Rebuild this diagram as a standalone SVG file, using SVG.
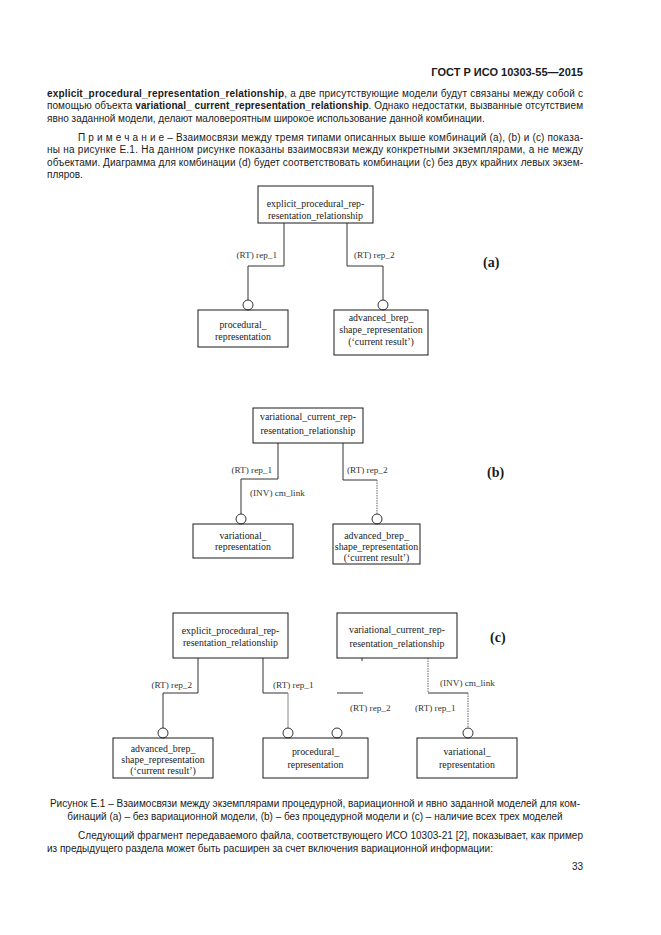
<svg xmlns="http://www.w3.org/2000/svg" width="661" height="935" viewBox="0 0 661 935">
<style>
.bg{fill:#ffffff}
.body{font-family:"Liberation Sans",Arial,sans-serif;font-size:10px;fill:#1a1a1a}
.b{font-weight:bold}
.hdr{font-family:"Liberation Sans",Arial,sans-serif;font-size:11px;font-weight:bold;fill:#1a1a1a}
.box{fill:none;stroke:#1a1a1a;stroke-width:1}
.nt{font-family:"Liberation Serif","Times New Roman",serif;font-size:9.9px;fill:#222;text-anchor:middle}
.lbl{font-family:"Liberation Serif","Times New Roman",serif;font-size:9.2px;fill:#333}
.tag{font-family:"Liberation Serif","Times New Roman",serif;font-size:14px;font-weight:bold;fill:#1a1a1a}
.ln{fill:none;stroke:#333;stroke-width:1}
.gr{fill:none;stroke:#888;stroke-width:1}
.dash{fill:none;stroke:#666;stroke-width:1;stroke-dasharray:1.5 1}
.circ{fill:#fff;stroke:#333;stroke-width:1}
</style>
<rect class="bg" x="0" y="0" width="661" height="935"/>

<!-- Header and body text -->
<text class="hdr" x="583" y="76" text-anchor="end">ГОСТ Р ИСО 10303-55—2015</text>
<text class="body" x="47" y="96.5" textLength="536" lengthAdjust="spacing"><tspan class="b">explicit_procedural_representation_relationship</tspan>, а две присутствующие модели будут связаны между собой с</text>
<text class="body" x="47" y="109" textLength="536" lengthAdjust="spacing">помощью объекта <tspan class="b">variational_ current_representation_relationship</tspan>. Однако недостатки, вызванные отсутствием</text>
<text class="body" x="47" y="121.5">явно заданной модели, делают маловероятным широкое использование данной комбинации.</text>

<text class="body" x="78" y="140.5" textLength="505" lengthAdjust="spacing">П р и м е ч а н и е   – Взаимосвязи между тремя типами описанных выше комбинаций (a), (b) и (c) показа-</text>
<text class="body" x="47" y="153" textLength="536" lengthAdjust="spacing">ны на рисунке Е.1. На данном рисунке показаны взаимосвязи между конкретными экземплярами, а не между</text>
<text class="body" x="47" y="165.5" textLength="536" lengthAdjust="spacing">объектами. Диаграмма для комбинации (d) будет соответствовать комбинации (c) без двух крайних левых экзем-</text>
<text class="body" x="47" y="178">пляров.</text>

<!-- Connectors -->
<g id="connectors">
  <!-- (a) -->
  <path class="ln" d="M284,223 V266 H248 V300"/>
  <path class="ln" d="M347,223 V266 H383 V300"/>
  <!-- (b) -->
  <path class="ln" d="M278,443 V479 H241 V514"/>
  <path class="ln" d="M343,443 V480 H377"/>
  <path class="dash" d="M377,480 V514"/>
  <!-- (c) -->
  <path class="ln" d="M198,658 V693 H163 V728"/>
  <path class="ln" d="M263,658 V693 H288"/>
  <path class="gr" d="M288,693 V728"/>
  <path class="ln" d="M362,658 V661"/>
  <path class="ln" d="M337,693 H363"/>
  <path class="dash" d="M428,658 V693"/>
  <path class="ln" d="M428,693 H468"/>
  <path class="dash" d="M468,693 V728"/>
  <!-- circles -->
  <circle class="circ" cx="248" cy="305" r="5"/>
  <circle class="circ" cx="383" cy="305" r="5"/>
  <circle class="circ" cx="241" cy="519" r="5"/>
  <circle class="circ" cx="377" cy="519" r="5"/>
  <circle class="circ" cx="163" cy="733" r="5"/>
  <circle class="circ" cx="288" cy="733" r="5"/>
  <circle class="circ" cx="337" cy="733" r="5"/>
  <circle class="circ" cx="468" cy="733" r="5"/>
  <!-- labels -->
  <text class="lbl" x="277" y="258" text-anchor="end">(RT)  rep_1</text>
  <text class="lbl" x="354" y="258">(RT)  rep_2</text>
  <text class="lbl" x="272" y="473" text-anchor="end">(RT)  rep_1</text>
  <text class="lbl" x="250" y="496">(INV) cm_link</text>
  <text class="lbl" x="347" y="473">(RT)  rep_2</text>
  <text class="lbl" x="192" y="688" text-anchor="end">(RT)  rep_2</text>
  <text class="lbl" x="273" y="688">(RT)  rep_1</text>
  <text class="lbl" x="350" y="711">(RT)  rep_2</text>
  <text class="lbl" x="415" y="711">(RT)  rep_1</text>
  <text class="lbl" x="440" y="686">(INV) cm_link</text>
</g>

<!-- (a) -->
<g id="a_eprr">
  <rect class="box" x="258" y="186" width="115" height="37"/>
  <text class="nt" x="315.5" y="207">explicit_procedural_rep-</text>
  <text class="nt" x="315.5" y="219">resentation_relationship</text>
</g>
<g id="a_proc">
  <rect class="box" x="198" y="310" width="90" height="37"/>
  <text class="nt" x="243" y="328">procedural_</text>
  <text class="nt" x="243" y="340">representation</text>
</g>
<g id="a_absr">
  <rect class="box" x="334" y="310" width="94" height="45"/>
  <text class="nt" x="381" y="321">advanced_brep_</text>
  <text class="nt" x="381" y="333">shape_representation</text>
  <text class="nt" x="381" y="345">(‘current result’)</text>
</g>
<text class="tag" x="483" y="267">(a)</text>

<!-- (b) -->
<g id="b_vcrr">
  <rect class="box" x="253" y="408" width="110" height="35"/>
  <text class="nt" x="308" y="420">variational_current_rep-</text>
  <text class="nt" x="308" y="434">resentation_relationship</text>
</g>
<g id="b_var">
  <rect class="box" x="193" y="524" width="100" height="34"/>
  <text class="nt" x="243" y="539">variational_</text>
  <text class="nt" x="243" y="550">representation</text>
</g>
<g id="b_absr">
  <rect class="box" x="333" y="524" width="87" height="40"/>
  <text class="nt" x="376.5" y="539">advanced_brep_</text>
  <text class="nt" x="376.5" y="550">shape_representation</text>
  <text class="nt" x="376.5" y="561">(‘current result’)</text>
</g>
<text class="tag" x="487" y="477">(b)</text>

<!-- (c) -->
<g id="c_eprr">
  <rect class="box" x="173" y="613" width="115" height="45"/>
  <text class="nt" x="230.5" y="634">explicit_procedural_rep-</text>
  <text class="nt" x="230.5" y="646">resentation_relationship</text>
</g>
<g id="c_vcrr">
  <rect class="box" x="337" y="613" width="120" height="45"/>
  <text class="nt" x="397" y="633">variational_current_rep-</text>
  <text class="nt" x="397" y="647">resentation_relationship</text>
</g>
<g id="c_absr">
  <rect class="box" x="113" y="738" width="100" height="40"/>
  <text class="nt" x="163" y="752">advanced_brep_</text>
  <text class="nt" x="163" y="763">shape_representation</text>
  <text class="nt" x="163" y="774">(‘current result’)</text>
</g>
<g id="c_proc">
  <rect class="box" x="263" y="738" width="105" height="40"/>
  <text class="nt" x="315.5" y="755">procedural_</text>
  <text class="nt" x="315.5" y="768">representation</text>
</g>
<g id="c_var">
  <rect class="box" x="417" y="738" width="100" height="40"/>
  <text class="nt" x="467" y="755">variational_</text>
  <text class="nt" x="467" y="768">representation</text>
</g>
<text class="tag" x="490" y="642">(c)</text>

<!-- Caption and following text -->
<text class="body" x="315" y="806.5" text-anchor="middle">Рисунок Е.1 – Взаимосвязи между экземплярами процедурной, вариационной и явно заданной моделей для ком-</text>
<text class="body" x="315" y="819.5" text-anchor="middle">бинаций (a) – без вариационной модели, (b) – без процедурной модели и (c) – наличие всех трех моделей</text>
<text class="body" x="78" y="838.5" textLength="505" lengthAdjust="spacing">Следующий фрагмент передаваемого файла, соответствующего ИСО 10303-21 [2], показывает, как пример</text>
<text class="body" x="47" y="851.5">из предыдущего раздела может быть расширен за счет включения вариационной информации:</text>
<text class="body" x="583" y="869.5" text-anchor="end">33</text>
</svg>
